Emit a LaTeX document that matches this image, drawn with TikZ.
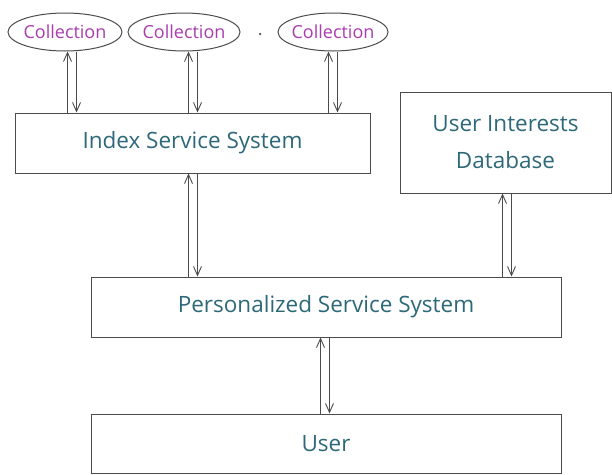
\documentclass[tikz,border=0pt]{standalone}
\usepackage{fontspec}
\setmainfont{Open Sans}
\usetikzlibrary{arrows.meta,shapes.geometric}
\definecolor{boxline}{RGB}{75,75,75}
\definecolor{boxtext}{RGB}{45,105,120}
\definecolor{colltext}{RGB}{170,60,175}
\begin{document}
\begin{tikzpicture}[x=1pt,y=-1pt,
  block/.style={draw=boxline,line width=1pt,rectangle,inner sep=0pt,
    font=\fontsize{22.5}{37}\selectfont,text=boxtext,align=center},
  coll/.style={draw=boxline,line width=1pt,ellipse,inner xsep=-8pt,inner ysep=0pt,
    minimum height=38pt,font=\fontsize{18}{20}\selectfont,text=colltext},
  link/.style={draw=boxline,line width=0.9pt,-{Straight Barb[length=9pt,width=8pt]}}]
\useasboundingbox[fill=white] (0,0) rectangle (612,474);

% collections
\node[coll,minimum width=114pt] (c1) at (65,32) {Collection};
\node[coll,minimum width=112pt] (c2) at (184,32) {Collection};
\node[coll,minimum width=110pt] (c3) at (333,32) {Collection};
\node[fill=boxline,circle,inner sep=0pt,minimum size=2.5pt] (dot) at (260,34) {};

% system blocks
\node[block,minimum width=355pt,minimum height=60pt] (idx) at (192.5,143) {Index Service System};
\node[block,minimum width=211pt,minimum height=101pt] (uid) at (505.5,142.5) {User Interests\\Database};
\node[block,minimum width=470pt,minimum height=60pt] (pss) at (326,307) {Personalized Service System};
\node[block,minimum width=470pt,minimum height=59pt] (usr) at (326,443.5) {User};

% two-way links: left line points up, right line points down
\foreach \src/\dst/\xc in {c1/idx/72, c2/idx/193, c3/idx/333, idx/pss/193, uid/pss/507, pss/usr/325}{
  \draw[link] (\dst.north -| {\xc-4.5},0) -- (\src.south -| {\xc-4.5},0);
  \draw[link] (\src.south -| {\xc+4.5},0) -- (\dst.north -| {\xc+4.5},0);
}
\end{tikzpicture}
\end{document}
